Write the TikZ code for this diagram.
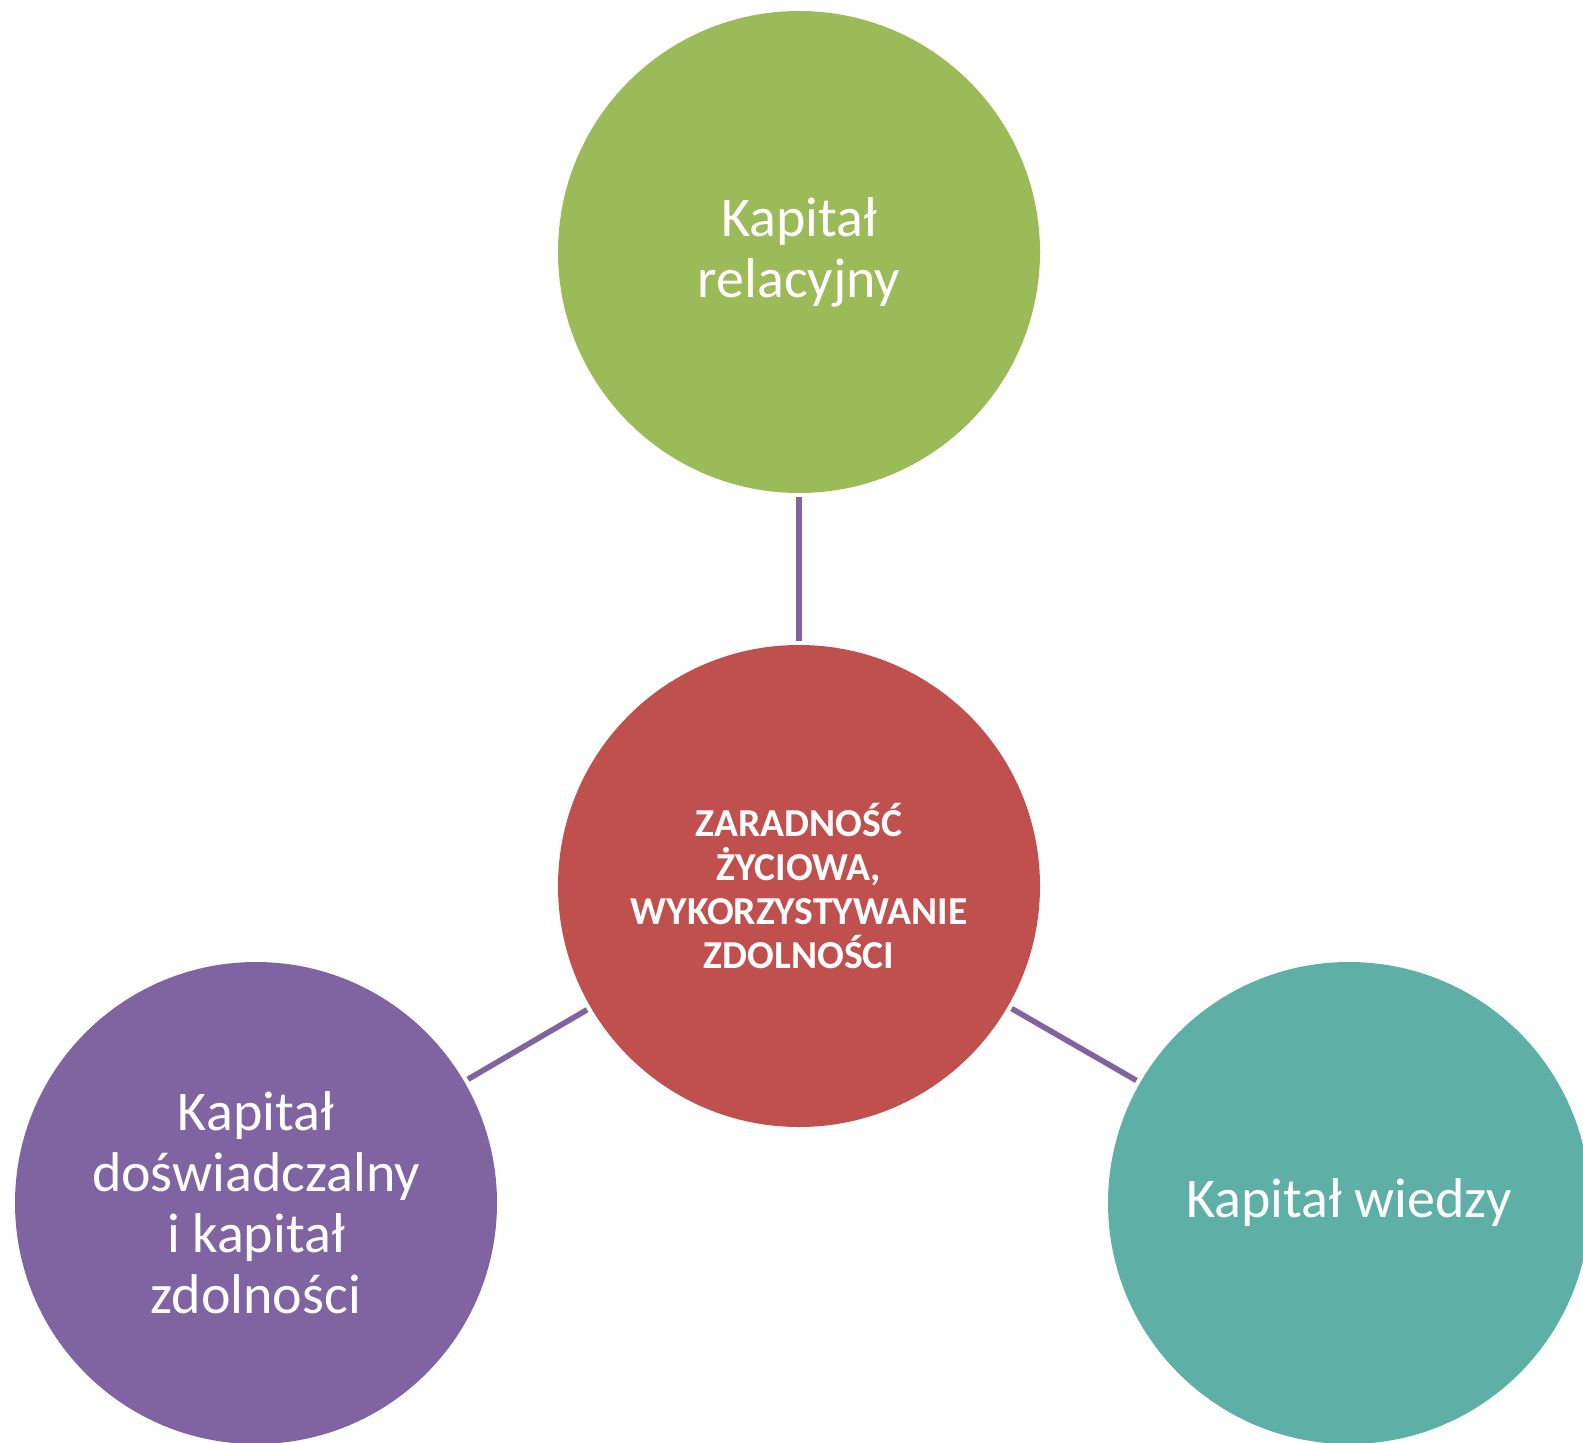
\documentclass[tikz,border=0pt]{standalone}
\usepackage{fontspec}
\setmainfont{Carlito}
\definecolor{cgreen}{HTML}{9BBB59}
\definecolor{cred}{HTML}{C0504D}
\definecolor{cpurple}{HTML}{8064A2}
\definecolor{cteal}{HTML}{5EAFA5}
\begin{document}
\begin{tikzpicture}[x=0.5pt,y=-0.5pt,
  bubble/.style={circle,draw=none,minimum size=241pt,inner sep=0pt,align=center,text=white,
    font=\fontsize{28}{30.5}\selectfont},
  centerbubble/.style={bubble,font=\fontsize{19.8}{22}\selectfont\bfseries},
  link/.style={draw=cpurple,line width=2.8pt,shorten <=2pt,shorten >=2pt}]
\useasboundingbox (0,0) rectangle (1583,1443);
\node[bubble,fill=cgreen] (top) at (799,252) {Kapitał\\relacyjny};
\node[centerbubble,fill=cred] (mid) at (799,886) {ZARADNOŚĆ\\ŻYCIOWA,\\WYKORZYSTYWANIE\\ZDOLNOŚCI};
\node[bubble,fill=cpurple] (left) at (256,1203) {Kapitał\\doświadczalny\\i kapitał\\zdolności};
\node[bubble,fill=cteal] (right) at (1349,1203) {Kapitał wiedzy};
\draw[link] (top) -- (mid);
\draw[link] (mid) -- (left);
\draw[link] (mid) -- (right);
\end{tikzpicture}
\end{document}
